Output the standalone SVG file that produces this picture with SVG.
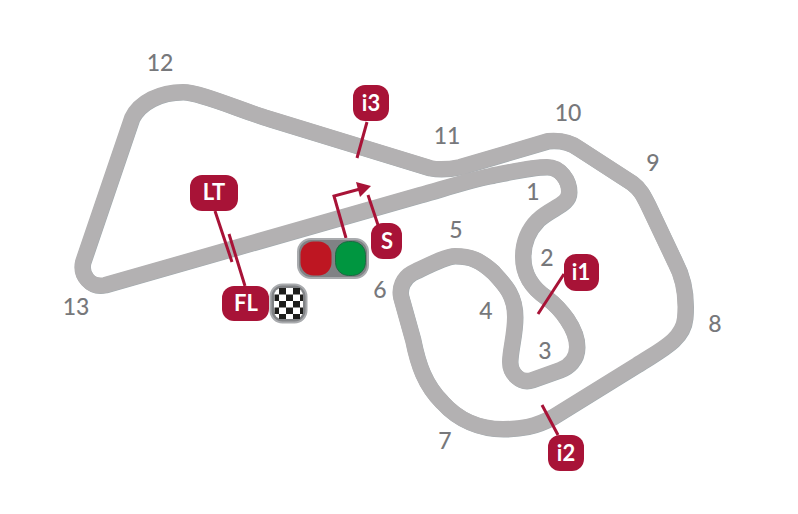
<svg xmlns="http://www.w3.org/2000/svg" width="798" height="514" viewBox="0 0 798 514">
<style>
.t{fill:none;stroke-linejoin:round}
.n{font-family:Lato,"Open Sans",sans-serif;font-size:23px;font-weight:500;fill:#77787b;text-anchor:middle}
.b{fill:#a81337}
.w{font-family:Lato,"Open Sans",sans-serif;font-size:22px;font-weight:700;fill:#fff;text-anchor:middle}
.l{fill:none;stroke:#a81337;stroke-width:3}
</style>
<defs><path id="track" d="M105 285 L420 195 C445 188 470 180 490 176 C510 172 530 167 547 167 C560 167 569 180 569 192 C569 205 552 207 538 220 C528 230 523 243 523 257 C523 275 532 288 547 298 C560 308 577 328 577 347 C577 360 568 367 560 370 L532 380 C520 384 510 373 510 362 C510 350 515 335 515 317 C515 295 505 285 493 272 C480 260 470 256 455 256 C445 256 425 267 412 273 C403 278 399 288 401 297 L413 340 C418 365 425 385 442 402 C458 420 480 429 503 429 C520 429 535 427 553 417 L637 365 C660 350 683 340 685 318 C687 295 682 275 675 262 L648 205 C643 195 640 189 632 183 L578 148 C570 142 560 140 548 141 L460 167 C450 169 440 170 430 168 L270 119 C240 110 200 92 183 92 C160 92 140 102 132 118 L83 262 C80 275 90 288 105 285 Z"/></defs>
<g id="connectors">
<use href="#track" class="t" stroke="#a3abaf" stroke-width="16" transform="translate(0.5 0.5)"/>
<use href="#track" class="t" stroke="#b3b1b2" stroke-width="16"/>
<path class="l" d="M215 211L232 262M229 234L245 286M367 122L357 158M564 274L538 314M542 405L558 435M368 195L378 225M346 238L334 196L360 189"/>
<path fill="#a81337" d="M371 186L356 182L360 197Z"/>
</g>
<g id="lights"><rect x="298" y="239" width="70" height="39" rx="13" fill="#808285" stroke="#a9abae" stroke-width="2"/><rect x="300.500" y="241.500" width="31" height="34" rx="13" fill="#be1622"/><rect x="335.500" y="241.500" width="30" height="34" rx="13" fill="#009640" stroke="#1c6b43" stroke-width="1"/></g>
<g id="flag"><rect x="270.500" y="284.500" width="36" height="38" rx="12" fill="#808285" stroke="#a9abae" stroke-width="2"/><rect x="274" y="288" width="29" height="31" rx="8" fill="#fff"/>
<path fill="#1d1d1b" d="M279 288h7v6.500h-7zM293 288h7v6.500h-7zM274.500 294.500h4.500v6.500h-4.500zM286 294.500h7v6.500h-7zM300 294.500h3v6.500h-3zM279 301h7v6.500h-7zM293 301h7v6.500h-7zM274.500 307.500h4.500v6.500h-4.500zM286 307.500h7v6.500h-7zM300 307.500h3v6.500h-3zM279 314h7v5h-7zM293 314h7v5h-7z"/></g>
<g id="LT"><rect class="b" x="190" y="175" width="48" height="36" rx="12"/><text class="w" x="214" y="200">LT</text></g>
<g id="FL"><rect class="b" x="222" y="286" width="47" height="35" rx="12"/><text class="w" x="246" y="311">FL</text></g>
<g id="S"><rect class="b" x="371" y="223" width="31" height="36" rx="12"/><text class="w" x="387" y="249">S</text></g>
<g id="i3"><rect class="b" x="353" y="85" width="36" height="36" rx="12"/><text class="w" x="371" y="111">i3</text></g>
<g id="i1"><rect class="b" x="564" y="254" width="35" height="37" rx="12"/><text class="w" x="581" y="280">i1</text></g>
<g id="i2"><rect class="b" x="548" y="435" width="36" height="36" rx="12"/><text class="w" x="566" y="461">i2</text></g>
<g id="labels">
<text class="n" x="533" y="200">1</text><text class="n" x="547" y="266">2</text><text class="n" x="545" y="359">3</text><text class="n" x="486" y="319">4</text><text class="n" x="456" y="238">5</text><text class="n" x="380" y="298">6</text><text class="n" x="445" y="449">7</text><text class="n" x="715" y="332">8</text><text class="n" x="653" y="171">9</text><text class="n" x="568" y="121">10</text><text class="n" x="447" y="144">11</text><text class="n" x="160" y="71">12</text><text class="n" x="76" y="315">13</text>
</g>
</svg>
